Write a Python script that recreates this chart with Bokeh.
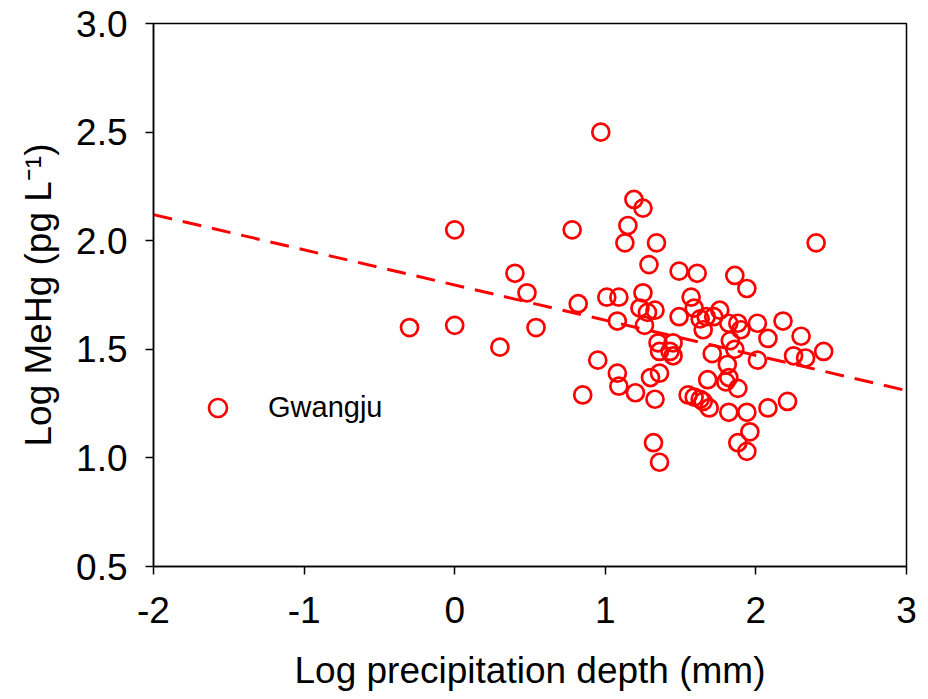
from bokeh.plotting import figure
from bokeh.models import Range1d, FixedTicker, Legend, LegendItem, ColumnDataSource
from bokeh.embed import file_html
from bokeh.resources import INLINE

# Data (Gwangju)
log_precip = [0.97, -0.30, 0.00, 0.00, 0.30, 0.40, 0.48, 0.54, 0.78, 0.82,
              0.85, 0.95, 1.01, 1.09, 1.08, 1.08, 1.09, 1.13, 1.15, 1.19,
              1.20, 1.25, 1.23, 1.25, 1.28, 1.33, 1.26, 1.29, 1.30, 1.36,
              1.33, 1.34, 1.35, 1.36, 1.43, 1.45, 1.45, 1.32, 1.36, 1.49,
              1.49, 1.55, 1.57, 1.59, 1.61, 1.59, 1.63, 1.63, 1.65, 1.65,
              1.67, 1.68, 1.69, 1.71, 1.72, 1.76, 1.80, 1.82, 1.81, 1.82,
              1.82, 1.83, 1.86, 1.86, 1.88, 1.88, 1.88, 1.90, 1.94, 1.94,
              1.94, 1.96, 2.01, 2.01, 2.08, 2.08, 2.18, 2.21, 2.25, 2.30,
              2.33, 2.40, 2.45]
log_mehg = [2.50, 1.60, 2.05, 1.61, 1.51, 1.85, 1.76, 1.60, 2.05, 1.71,
            1.29, 1.45, 1.74, 1.74, 1.63, 1.39, 1.33, 1.99, 2.07, 2.19,
            1.30, 2.15, 1.69, 1.76, 1.67, 1.68, 1.61, 1.89, 1.37, 1.39,
            1.27, 1.99, 1.53, 1.49, 1.49, 1.53, 1.47, 1.07, 0.98, 1.86,
            1.65, 1.29, 1.74, 1.28, 1.85, 1.69, 1.64, 1.27, 1.59, 1.26,
            1.65, 1.36, 1.23, 1.48, 1.65, 1.68, 1.35, 1.37, 1.43, 1.62,
            1.21, 1.54, 1.50, 1.84, 1.62, 1.07, 1.32, 1.59, 1.78, 1.03,
            1.21, 1.12, 1.62, 1.45, 1.55, 1.23, 1.63, 1.26, 1.47, 1.56,
            1.46, 1.99, 1.49]

x_ticks = [-2, -1, 0, 1, 2, 3]
x_tick_labels = ["-2", "-1", "0", "1", "2", "3"]
y_ticks = [0.5, 1.0, 1.5, 2.0, 2.5, 3.0]
y_tick_labels = ["0.5", "1.0", "1.5", "2.0", "2.5", "3.0"]

# Regression line
fit_intercept = 1.796
fit_slope = -0.162

FONT = "Liberation Sans"

p = figure(width=928, height=699, output_backend="svg", toolbar_location=None,
           x_range=Range1d(x_ticks[0], x_ticks[-1]),
           y_range=Range1d(y_ticks[0], y_ticks[-1]),
           min_border_left=153, min_border_right=22,
           min_border_top=23, min_border_bottom=133,
           background_fill_color="white", border_fill_color="white")

p.xgrid.visible = False
p.ygrid.visible = False
p.outline_line_color = "black"
p.outline_line_width = 1.5
p.outline_line_alpha = 1.0

# Axes
p.xaxis.ticker = FixedTicker(ticks=x_ticks)
p.yaxis.ticker = FixedTicker(ticks=y_ticks)
p.xaxis.major_label_overrides = {t: l for t, l in zip(x_ticks, x_tick_labels)}
p.yaxis.major_label_overrides = {t: l for t, l in zip(y_ticks, y_tick_labels)}
for ax in (p.xaxis, p.yaxis):
    ax.major_label_text_font = FONT
    ax.major_label_text_font_size = "37px"
    ax.major_label_text_color = "black"
    ax.axis_label_text_font = FONT
    ax.axis_label_text_font_size = "37px"
    ax.axis_label_text_font_style = "normal"
    ax.axis_label_text_color = "black"
    ax.axis_line_color = "black"
    ax.axis_line_width = 1.5
    ax.major_tick_line_color = "black"
    ax.major_tick_line_width = 1.5
    ax.major_tick_out = 8
    ax.major_tick_in = 0
    ax.minor_tick_line_color = None

p.xaxis.axis_label = "Log precipitation depth (mm)"
p.yaxis.axis_label = "Log MeHg (pg L\u207b\u00b9)"
p.xaxis.major_label_standoff = 22
p.xaxis.axis_label_standoff = 24
p.yaxis.major_label_standoff = 18
p.yaxis.axis_label_standoff = 14

# Regression (dashed) line
fit_x = [x_ticks[0], x_ticks[-1]]
fit_y = [fit_intercept + fit_slope * v for v in fit_x]
p.line(fit_x, fit_y, line_color="#ff0000", line_width=3, line_dash="19 11")

# Scatter points
src = ColumnDataSource(data=dict(x=log_precip, y=log_mehg))
r = p.scatter("x", "y", source=src, marker="circle", size=17,
              fill_alpha=0, line_color="#ff0000", line_width=2.7)

legend = Legend(items=[LegendItem(label="Gwangju", renderers=[r])],
                location=(42, 136), padding=0, margin=0,
                glyph_width=45, glyph_height=45, label_standoff=28,
                border_line_alpha=0, background_fill_alpha=0,
                label_text_font=FONT, label_text_font_size="29px",
                label_text_color="black")
p.add_layout(legend)

open("out.html", "w").write(file_html(p, INLINE))
